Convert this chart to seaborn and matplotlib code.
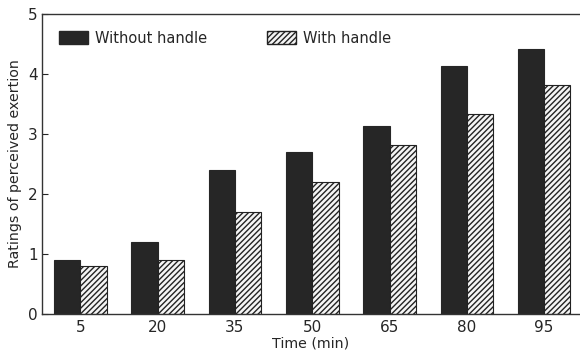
import pandas as pd
import seaborn as sns
import matplotlib.pyplot as plt
from matplotlib.patches import Patch

# readings
times = ['5', '20', '35', '50', '65', '80', '95']
without_handle = [0.9, 1.2, 2.4, 2.7, 3.13, 4.13, 4.42]
with_handle = [0.8, 0.9, 1.7, 2.2, 2.82, 3.33, 3.82]
groups = ['Without handle', 'With handle']

df = pd.DataFrame({
    'time': times * 2,
    'rpe': without_handle + with_handle,
    'group': [groups[0]] * len(times) + [groups[1]] * len(times),
})

sns.set_style('ticks')
plt.rcParams['font.family'] = ['DejaVu Sans']
plt.rcParams['hatch.linewidth'] = 1.0

fig = plt.figure(figsize=(5.8, 3.55), dpi=100)
ax = fig.add_axes([0.072, 0.115, 0.926, 0.846])

dark = '#262626'
sns.barplot(data=df, x='time', y='rpe', hue='group', hue_order=groups,
            palette=[dark, 'white'], width=0.68, gap=0, legend=False,
            saturation=1, ax=ax)

# second series is hatched
for bar in ax.containers[0]:
    bar.set_edgecolor(dark)
    bar.set_linewidth(0.8)
for bar in ax.containers[1]:
    bar.set_facecolor('#f4f4f4')
    bar.set_edgecolor('#222222')
    bar.set_hatch('//////')
    bar.set_linewidth(0.8)

ax.set_ylim(0, 5)
ax.set_xlim(-0.5, 6.45)
ax.set_yticks([0, 1, 2, 3, 4, 5])
ax.tick_params(axis='y', direction='in', length=4, labelsize=11, pad=3)
ax.tick_params(axis='x', length=0, labelsize=11, pad=4)
ax.set_ylabel('Ratings of perceived exertion', fontsize=10.2, labelpad=4)
ax.set_xlabel('Time (min)', fontsize=10.2, labelpad=1)

for side in ['left', 'bottom', 'top']:
    ax.spines[side].set_visible(True)
    ax.spines[side].set_color('#333333')
    ax.spines[side].set_linewidth(1.0)
ax.spines['right'].set_visible(False)

handles = [
    Patch(facecolor=dark, edgecolor=dark),
    Patch(facecolor='#f4f4f4', edgecolor='#222222', hatch='//////'),
]
ax.legend(handles, groups, loc='upper left', ncol=2, frameon=False,
          fontsize=10.5, handlelength=2.0, handleheight=1.0,
          columnspacing=4.1, handletextpad=0.5,
          bbox_to_anchor=(0.007, 0.987))

fig.savefig('out.png', dpi=100)
